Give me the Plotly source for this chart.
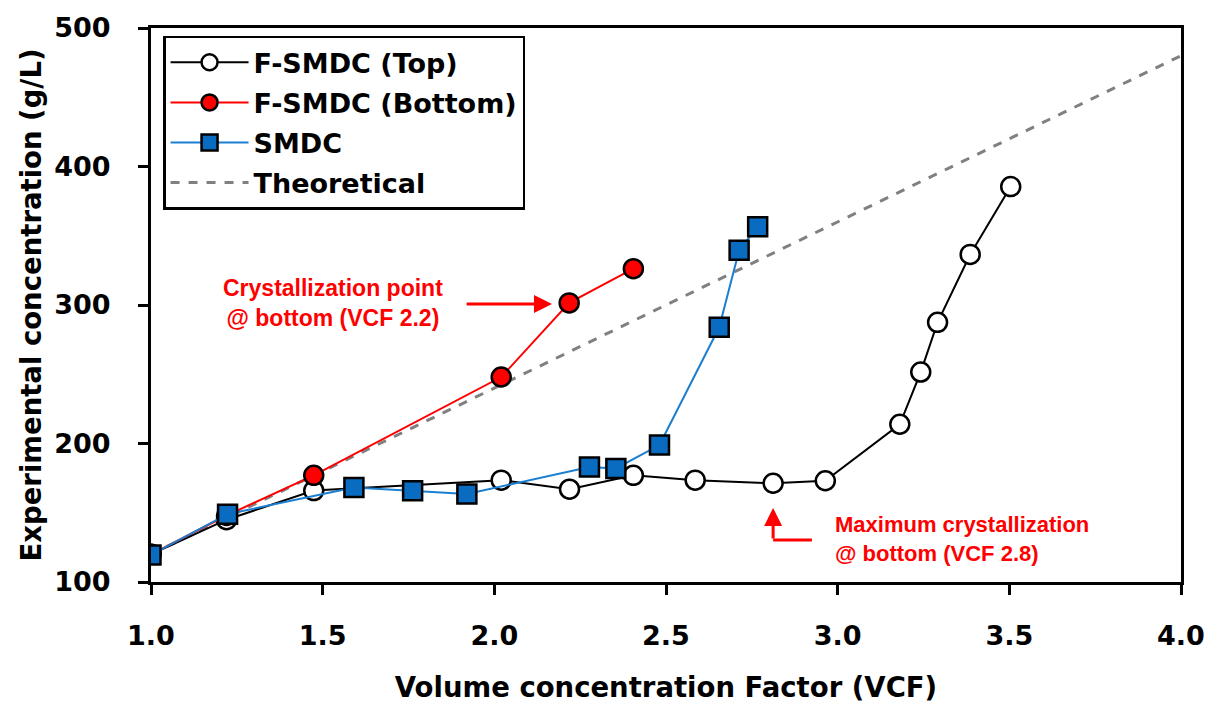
import plotly.graph_objects as go

top_x = [1.0, 1.22, 1.474, 2.02, 2.219, 2.405, 2.585, 2.812, 2.964, 3.181, 3.242, 3.291, 3.386, 3.504]
top_y = [120, 145, 166, 173.5, 167, 177, 173.5, 171.3, 173.1, 213.9, 251.6, 287.5, 336.5, 385.5]

bot_x = [1.0, 1.22, 1.474, 2.02, 2.218, 2.405]
bot_y = [120, 148, 177, 248, 301.5, 326.2]

smdc_x = [1.0, 1.223, 1.591, 1.762, 1.92, 2.277, 2.354, 2.481, 2.655, 2.713, 2.767]
smdc_y = [119.5, 149, 168.2, 165.8, 163.5, 183, 182, 198.9, 283.9, 339.5, 356.5]

theo_x = [1.0, 4.0]
theo_y = [120, 480]

x_ticks = [1.0, 1.5, 2.0, 2.5, 3.0, 3.5, 4.0]
y_ticks = [100, 200, 300, 400, 500]

BLACK_FONT = "DejaVu Sans"

fig = go.Figure()
fig.add_trace(go.Scatter(x=theo_x, y=theo_y, mode="lines", name="<b>Theoretical</b>",
                         legendgroup="d", legendrank=4,
                         line=dict(color="#808080", width=3, dash="dash")))
fig.add_trace(go.Scatter(x=top_x, y=top_y, mode="lines+markers", name="<b>F-SMDC (Top)</b>",
                         legendgroup="a", legendrank=1,
                         line=dict(color="black", width=2),
                         marker=dict(symbol="circle", size=19, color="white",
                                     line=dict(color="black", width=2.5))))
fig.add_trace(go.Scatter(x=bot_x, y=bot_y, mode="lines+markers", name="<b>F-SMDC (Bottom)</b>",
                         legendgroup="b", legendrank=2,
                         line=dict(color="#ff0000", width=2),
                         marker=dict(symbol="circle", size=19, color="#ff0000",
                                     line=dict(color="black", width=2.5))))
fig.add_trace(go.Scatter(x=smdc_x, y=smdc_y, mode="lines+markers", name="<b>SMDC</b>",
                         legendgroup="c", legendrank=3,
                         line=dict(color="#1a7fd0", width=2),
                         marker=dict(symbol="square", size=19, color="#0a6cc0",
                                     line=dict(color="black", width=2.5))))

ann_font = dict(family="Liberation Sans", size=23, color="#ff0000")
fig.add_annotation(x=1.856, y=301.4, xref="x", yref="y", xanchor="right", yanchor="middle",
                   text="<b>Crystallization point<br>@ bottom (VCF 2.2)</b>",
                   showarrow=False, align="center", font=ann_font)
fig.add_annotation(x=2.168, y=300.7, ax=1.915, ay=300.7, xref="x", yref="y",
                   axref="x", ayref="y", showarrow=True, arrowhead=2, arrowsize=1.2,
                   arrowwidth=3, arrowcolor="#ff0000", text="")
fig.add_annotation(x=2.987, y=131, xref="x", yref="y", xanchor="left", yanchor="middle",
                   text="<b>Maximum crystallization<br>@ bottom (VCF 2.8)</b>",
                   showarrow=False, align="left",
                   font=dict(family="Liberation Sans", size=22, color="#ff0000"))
fig.add_annotation(x=2.812, y=153.5, ax=2.812, ay=130.3, xref="x", yref="y",
                   axref="x", ayref="y", showarrow=True, arrowhead=2, arrowsize=1.2,
                   arrowwidth=3, arrowcolor="#ff0000", text="")
fig.add_shape(type="line", x0=2.812, y0=130.3, x1=2.925, y1=130.3, xref="x", yref="y",
              line=dict(color="#ff0000", width=3))

tick_font = dict(family=BLACK_FONT, size=27, color="black")
fig.update_xaxes(range=[1.0, 4.0], tickvals=x_ticks,
                 ticktext=["<b>%.1f</b>" % v for v in x_ticks],
                 showline=True, linecolor="black", linewidth=3, mirror=True,
                 ticks="outside", ticklen=10, tickwidth=3, tickcolor="black",
                 ticklabelstandoff=18, automargin=False,
                 showgrid=False, zeroline=False, tickfont=tick_font,
                 title=dict(text="<b>Volume concentration Factor (VCF)</b>",
                            font=dict(family=BLACK_FONT, size=27.5, color="black"),
                            standoff=28))
fig.update_yaxes(range=[100, 500], tickvals=y_ticks,
                 ticktext=["<b>%d</b>" % v for v in y_ticks],
                 showline=True, linecolor="black", linewidth=3, mirror=True,
                 ticks="outside", ticklen=10, tickwidth=3, tickcolor="black",
                 ticklabelstandoff=22, automargin=False,
                 showgrid=False, zeroline=False, tickfont=tick_font,
                 title=dict(text="<b>Experimental concentration (g/L)</b>",
                            font=dict(family=BLACK_FONT, size=27.5, color="black"),
                            standoff=5))

fig.update_layout(
    width=1211, height=704,
    margin=dict(l=151, r=30, t=28, b=122, autoexpand=False),
    plot_bgcolor="white", paper_bgcolor="white",
    legend=dict(x=0.0117, y=0.986, xanchor="left", yanchor="top",
                bgcolor="white", bordercolor="black", borderwidth=2.5,
                font=dict(family=BLACK_FONT, size=27, color="black"),
                itemwidth=78,
                traceorder="grouped", tracegroupgap=2),
    showlegend=True,
)

fig.write_html("out.html")
